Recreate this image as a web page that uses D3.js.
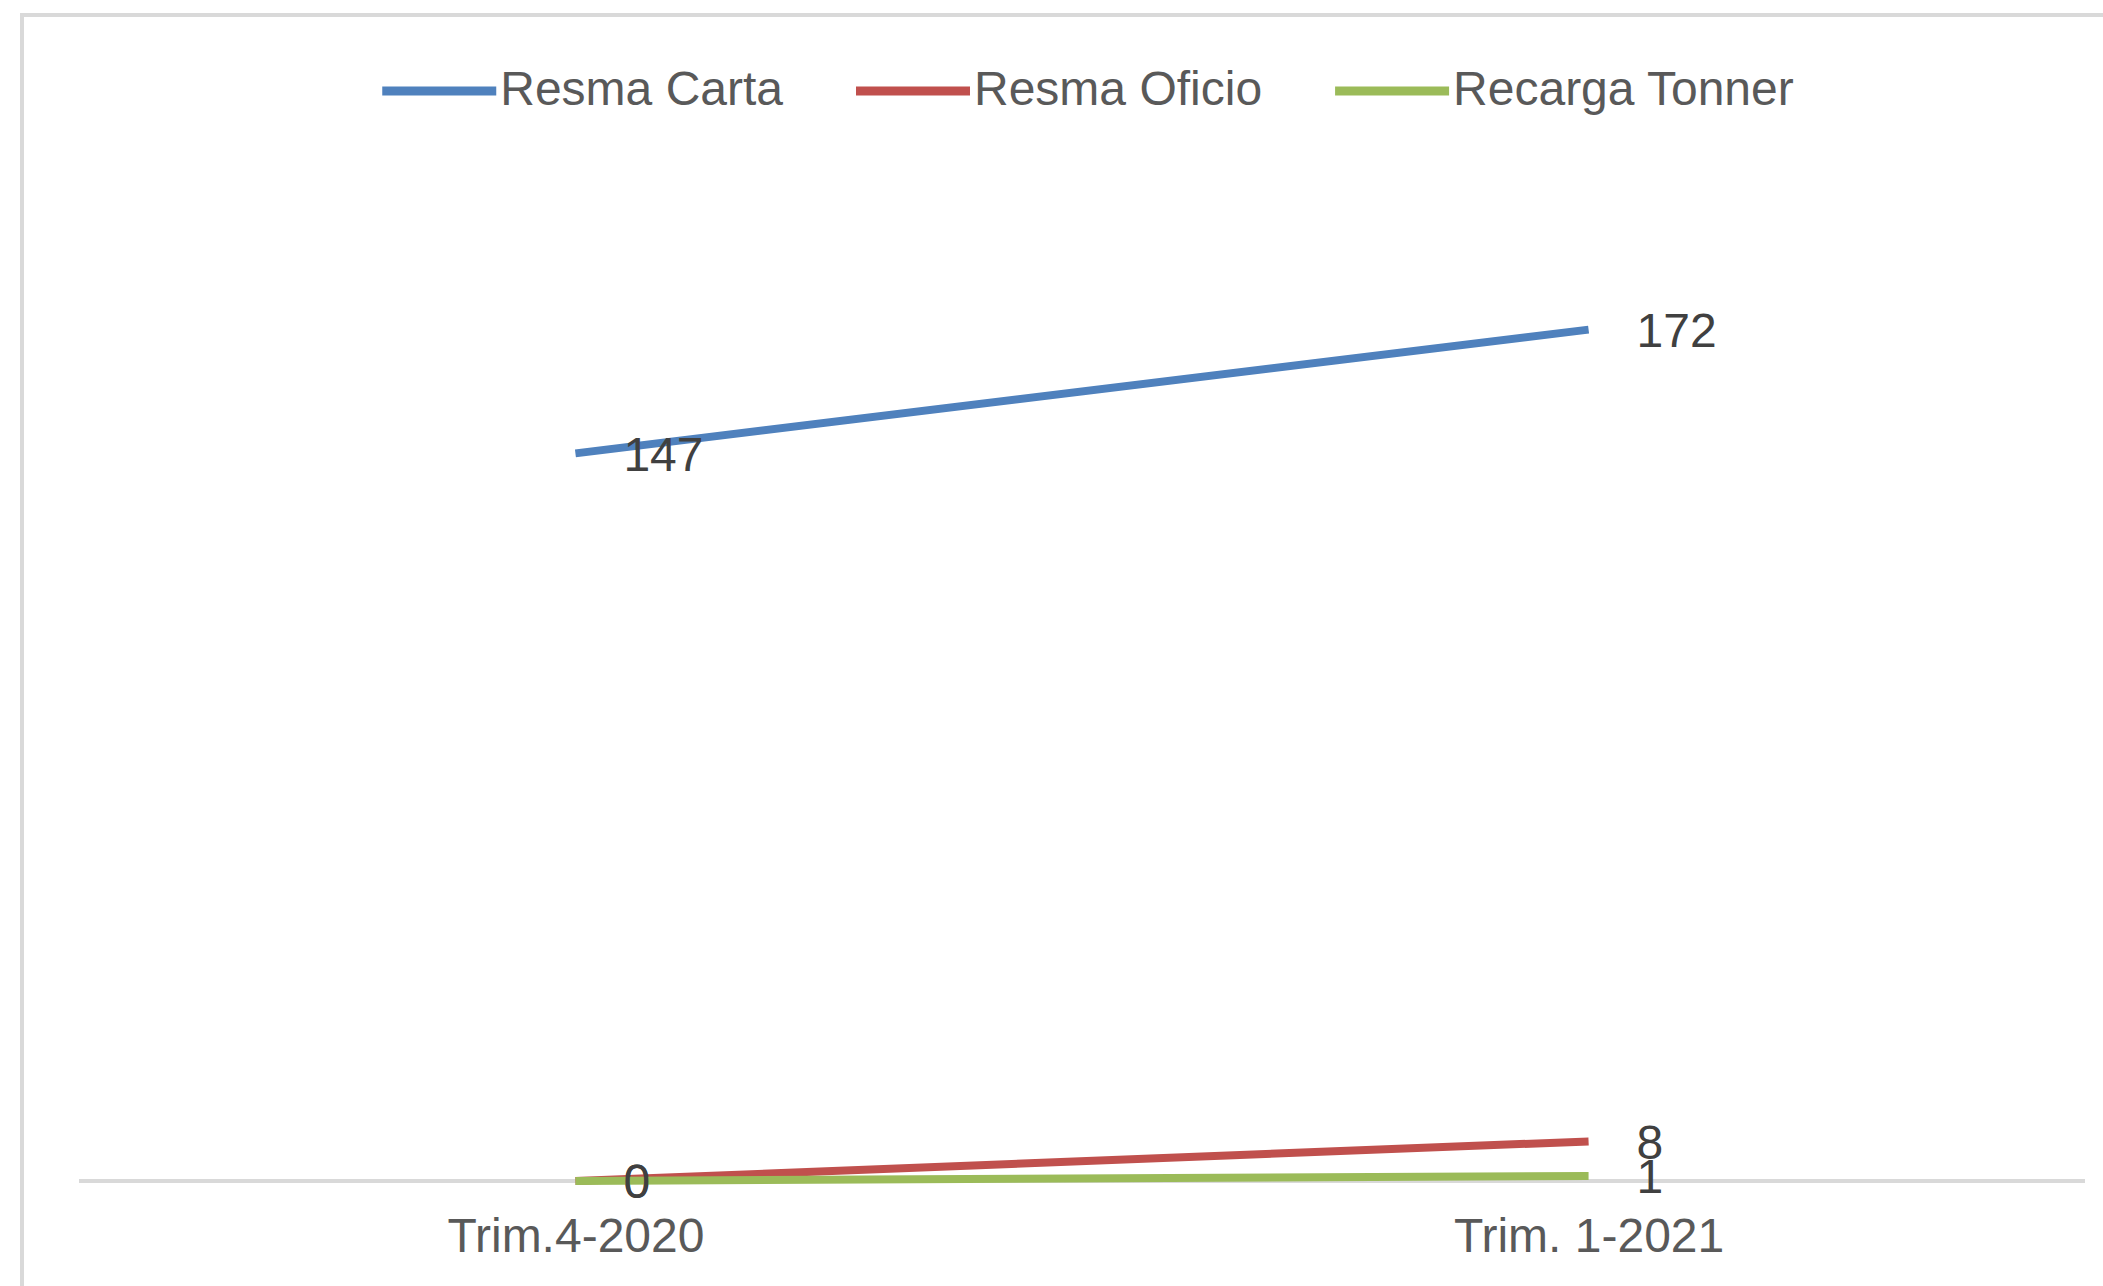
<!DOCTYPE html>
<html>
<head>
<meta charset="utf-8">
<script src="https://cdn.jsdelivr.net/npm/d3@7"></script>
<style>
    html, body { margin: 0; padding: 0; background: #fff; overflow: hidden; }
    text { font-family: "Liberation Sans", Arial, sans-serif; }
</style>
</head>
<body>
<div id="chart"></div>
<script>
// data
const categories = ["Trim.4-2020", "Trim. 1-2021"];
const seriesNames = ["Resma Carta", "Resma Oficio", "Recarga Tonner"];
const resmaCarta = [147, 172];
const resmaOficio = [0, 8];
const recargaTonner = [0, 1];
const seriesColors = ["#4f81bd", "#c0504d", "#9bbb59"];

const series = [resmaCarta, resmaOficio, recargaTonner].map((values, i) => ({
    name: seriesNames[i],
    color: seriesColors[i],
    values: values.map((v, j) => ({ cat: categories[j], value: v }))
}));

const width = 2103, height = 1286;
const plot = { left: 79, right: 2085, top: 191, bottom: 1181 };
const textColor = "#595959";
const fontSize = 48;

const svg = d3.select("#chart").append("svg")
    .attr("width", width).attr("height", height);

// chart area frame (runs off the right and bottom edge)
svg.append("rect")
    .attr("x", 22).attr("y", 15)
    .attr("width", width + 50).attr("height", height + 50)
    .attr("fill", "#fff").attr("stroke", "#d9d9d9").attr("stroke-width", 4);

const x = d3.scalePoint().domain(categories)
    .range([plot.left, plot.right]).padding(0.49);
const y = d3.scaleLinear().domain([0, 200]).range([plot.bottom, plot.top]);

// category axis line
svg.append("line")
    .attr("x1", plot.left).attr("x2", plot.right)
    .attr("y1", y(0)).attr("y2", y(0))
    .attr("stroke", "#d9d9d9").attr("stroke-width", 4);

const xAxis = svg.append("g")
    .attr("transform", `translate(0,${y(0)})`)
    .call(d3.axisBottom(x).tickSize(0).tickPadding(37));
xAxis.select(".domain").remove();
xAxis.selectAll("text")
    .attr("font-size", fontSize).attr("fill", textColor)
    .style("font-family", "'Liberation Sans', Arial, sans-serif");

const line = d3.line().x(d => x(d.cat)).y(d => y(d.value));

const seriesG = svg.selectAll(".series").data(series).enter()
    .append("g").attr("class", "series");

seriesG.append("path")
    .attr("d", d => line(d.values))
    .attr("fill", "none").attr("stroke", d => d.color)
    .attr("stroke-width", 8);

// data labels, right of each point
seriesG.selectAll(".label").data(d => d.values).enter()
    .append("text").attr("class", "label")
    .attr("x", d => x(d.cat) + 48)
    .attr("y", d => y(d.value))
    .attr("dy", "0.36em")
    .attr("font-size", fontSize).attr("fill", "#404040")
    .text(d => d.value);

// legend, centred over the plot
const legend = svg.append("g");
let pos = 0;
series.forEach(s => {
    const item = legend.append("g").attr("transform", `translate(${pos},0)`);
    item.append("line")
        .attr("x1", 0).attr("x2", 114).attr("y1", 0).attr("y2", 0)
        .attr("stroke", s.color).attr("stroke-width", 9);
    const t = item.append("text")
        .attr("x", 118).attr("dy", "0.3em")
        .attr("font-size", fontSize).attr("fill", textColor)
        .text(s.name);
    pos += 118 + t.node().getComputedTextLength() + 73;
});
const legendWidth = pos - 73;
legend.attr("transform", `translate(${(plot.left + plot.right) / 2 - legendWidth / 2 + 6},91)`);
</script>
</body>
</html>
